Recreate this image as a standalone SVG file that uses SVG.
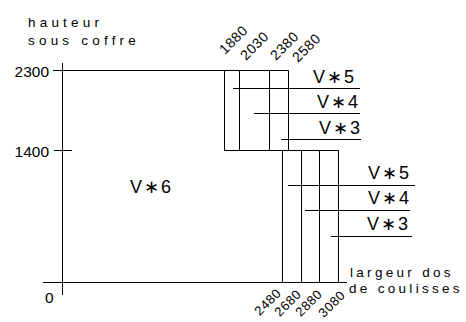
<svg xmlns="http://www.w3.org/2000/svg" width="466" height="322" viewBox="0 0 466 322">
<style>
.ln{stroke:#000;stroke-width:1;fill:none}
text{font-family:"Liberation Sans","DejaVu Sans",sans-serif;fill:#000}
.lbl{font-size:13.5px;letter-spacing:4.2px}
.lbr{font-size:13.5px;letter-spacing:3.3px}
.num{font-size:15.5px}
.rot{font-size:14px;letter-spacing:0.6px}
.rob{font-size:13px;letter-spacing:0.6px}
.v{font-size:18px;letter-spacing:2px}
</style>
<rect width="466" height="322" fill="#fff"/>
<g id="connectors" class="ln">
<path d="M62.5 63V295M43 282.5H347M53 70.5H288.5M54 150.5H72"/>
<path d="M224.5 70.5V150.5M239.5 70.5V150.5M269.5 70.5V150.5M288.5 70.5V150.5M224.5 150.5H338.5"/>
<path d="M282.5 150.5V282.5M301.5 150.5V282.5M319.5 150.5V282.5M338.5 150.5V282.5"/>
<path d="M233 88.5H360M254 113.5H360M281 139.5H361"/>
<path d="M288 185.5H415M305 210.5H410M331 236.5H412"/>
</g>
<g id="axis-labels">
<text class="lbl" x="28" y="27">hauteur</text>
<text class="lbl" x="28" y="45">sous coffre</text>
<text class="lbr" x="350" y="277">largeur dos</text>
<text class="lbr" x="349" y="293">de coulisses</text>
<text class="num" x="49" y="76.5" text-anchor="end">2300</text>
<text class="num" x="49" y="156.5" text-anchor="end">1400</text>
<text class="num" x="45" y="303">0</text>
</g>
<g id="top-values">
<text class="rot" transform="translate(225 55) rotate(-45)">1880</text>
<text class="rot" transform="translate(246 61) rotate(-45)">2030</text>
<text class="rot" transform="translate(276 61) rotate(-45)">2380</text>
<text class="rot" transform="translate(298 63) rotate(-45)">2580</text>
</g>
<g id="bottom-values">
<text class="rob" text-anchor="end" transform="translate(282 294) rotate(-45)">2480</text>
<text class="rob" text-anchor="end" transform="translate(302 295) rotate(-45)">2680</text>
<text class="rob" text-anchor="end" transform="translate(323 295) rotate(-45)">2880</text>
<text class="rob" text-anchor="end" transform="translate(346 296) rotate(-45)">3080</text>
</g>
<g id="zone-v6"><text class="v" x="130" y="192.5">V∗6</text></g>
<g id="zone-upper">
<text class="v" x="313" y="83">V∗5</text>
<text class="v" x="317" y="108">V∗4</text>
<text class="v" x="319" y="134">V∗3</text>
</g>
<g id="zone-lower">
<text class="v" x="368" y="179">V∗5</text>
<text class="v" x="368" y="204">V∗4</text>
<text class="v" x="367" y="229.5">V∗3</text>
</g>
</svg>
